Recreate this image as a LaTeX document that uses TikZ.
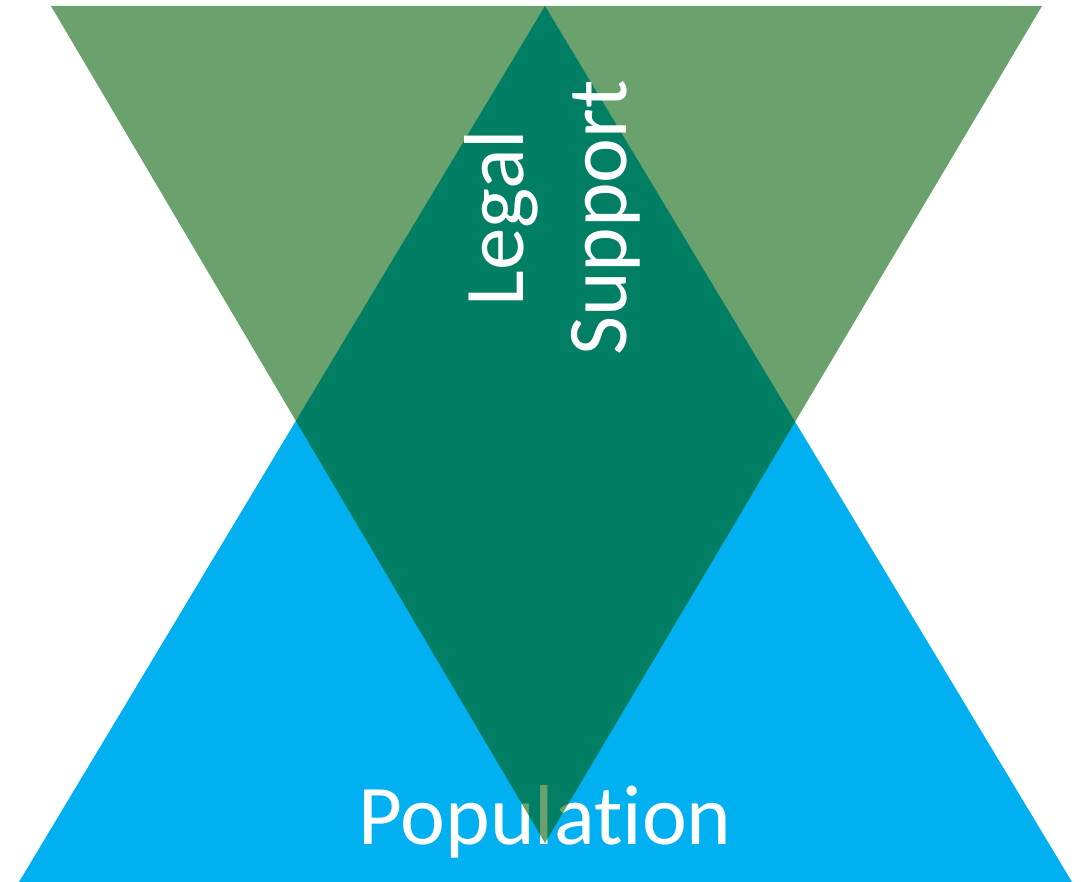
\documentclass[tikz,border=0pt]{standalone}
\usepackage{fontspec}
\setmainfont[Ligatures=NoCommon]{Carlito}
\usepackage{xcolor}
\usepackage{tikz}
\definecolor{popblue}{RGB}{0,176,240}
\definecolor{legalgreen}{RGB}{0,93,2}
\tikzset{every picture/.style={x=1pt,y=1pt},
  label text/.style={text=white,inner sep=0pt,font=\fontsize{85}{103}\selectfont}}

\begin{document}
\begin{tikzpicture}
    \useasboundingbox (0,0) rectangle (1081,882);

    \coordinate (b1) at (19,0);
    \coordinate (b2) at (1072,0);
    \coordinate (b3) at (545,876);

    \coordinate (g1) at (51,876);
    \coordinate (g2) at (1042,876);
    \coordinate (g3) at (545,39);

    \fill[popblue] (b1) -- (b2) -- (b3) -- cycle;
    \node[label text, anchor=base] (pop) at (545,37) {Population};
    \fill[legalgreen, fill opacity=0.58] (g1) -- (g2) -- (g3) -- cycle;
    \node[label text, rotate=90, align=center] (legal) at (552,664) {Legal\\Support};
\end{tikzpicture}
\end{document}
